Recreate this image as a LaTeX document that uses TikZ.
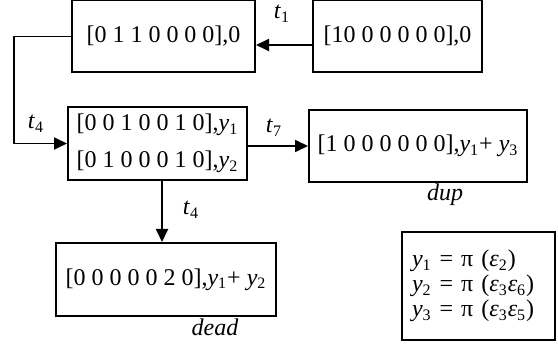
\documentclass[tikz,border=0pt]{standalone}
\usepackage{fontspec}
\setmainfont{Liberation Serif}
\usepackage{tikz}
\usetikzlibrary{
  arrows.meta,
  positioning
}
\newcommand{\yv}[1]{\textit{y}\textsubscript{#1}}
\newcommand{\ev}[1]{\textit{ε}\textsubscript{#1}}
\newcommand{\tv}[1]{\textit{t}\textsubscript{#1}}
\tikzset{
  mkbox/.style={
    draw, line width=1pt, inner sep=0pt, align=center,
    font=\fontsize{12}{18.5}\selectfont
  },
  keybox/.style={mkbox, align=left, inner xsep=5pt, text width=66.5pt,
    font=\fontsize{12}{12.5}\selectfont},
  fire/.style={-{Triangle[length=6.5pt, width=6pt]}, line width=0.9pt},
  tag/.style={inner sep=0pt, font=\fontsize{12}{14}\selectfont},
  note/.style={inner sep=0pt, font=\fontsize{12}{14}\selectfont\itshape}
}

\begin{document}
\begin{tikzpicture}[x=0.5pt, y=-0.5pt]
  \useasboundingbox (0,0) rectangle (558,358);
  \node[mkbox, minimum width=91.5pt, minimum height=36pt] (mk1) at (163.5,36.5) {[0 1 1 0 0 0 0],0};
  \node[mkbox, minimum width=84.5pt, minimum height=36pt] (mk0) at (397.5,36.5) {[10 0 0 0 0 0],0};
  \node[mkbox, minimum width=89.5pt, minimum height=36.5pt] (mk2) at (157.5,143.5) {[0 0 1 0 0 1 0],\yv{1}\\{}[0 1 0 0 0 1 0],\yv{2}};
  \node[mkbox, minimum width=109pt, minimum height=36pt] (mk3) at (418,146) {[1 0 0 0 0 0 0],\yv{1}+ \yv{3}};
  \node[mkbox, minimum width=110pt, minimum height=36.5pt] (mk4) at (166,279.5) {[0 0 0 0 0 2 0],\yv{1}+ \yv{2}};
  \node[keybox, minimum height=54pt] (key) at (478.5,286) {\yv{1} = π (\ev{2})\\\yv{2} = π (\ev{3}\ev{6})\\\yv{3} = π (\ev{3}\ev{5})};

  \draw[fire] ([yshift=-4.25pt]mk0.west) -- ([yshift=-4.25pt]mk0.west -| mk1.east);
  \draw[fire] (mk1.west) -- ++(-57,0) |- (mk2.west);
  \draw[fire] (mk2.east |- mk3.west) -- (mk3.west);
  \draw[fire] ([xshift=2.25pt]mk2.south) -- ([xshift=2.25pt]mk2.south |- mk4.north);

  \node[tag] (lt1) at (282,14) {\tv{1}};
  \node[tag] (lt4a) at (36,124) {\tv{4}};
  \node[tag] (lt7) at (274,128) {\tv{7}};
  \node[tag] (lt4b) at (191,210) {\tv{4}};
  \node[note] (ldup) at (445,195) {dup};
  \node[note] (ldead) at (215,327) {dead};
\end{tikzpicture}
\end{document}
